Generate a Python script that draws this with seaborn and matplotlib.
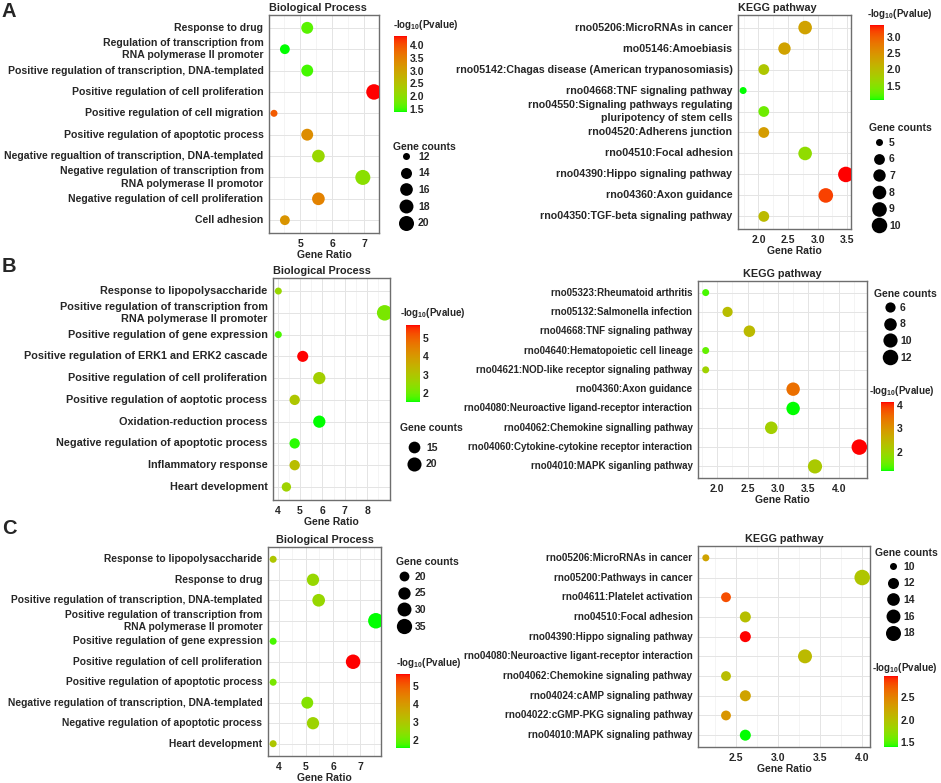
import numpy as np
import pandas as pd
import seaborn as sns
import matplotlib
matplotlib.use("Agg")
import matplotlib.pyplot as plt
from matplotlib.colors import ListedColormap, Normalize
from matplotlib.cm import ScalarMappable
from matplotlib.lines import Line2D
from matplotlib.ticker import AutoMinorLocator, FormatStrFormatter

# ---------------- values ----------------
# A - Biological Process
a_bp_terms = ["Response to drug",
              "Regulation of transcription from\nRNA polymerase II promoter",
              "Positive regulation of transcription, DNA-templated",
              "Positive regulation of cell proliferation",
              "Positive regulation of cell migration",
              "Positive regulation of apoptotic process",
              "Negative regualtion of transcription, DNA-templated",
              "Negative regulation of transcription from\nRNA polymerase II promotor",
              "Negative regulation of cell proliferation",
              "Cell adhesion"]
a_bp_ratio = [5.22, 4.52, 5.22, 7.31, 4.18, 5.22, 5.57, 6.96, 5.57, 4.52]
a_bp_count = [15, 13, 15, 21, 12, 15, 16, 20, 16, 13]
a_bp_logp = [1.60, 1.37, 1.50, 4.37, 3.92, 3.32, 2.12, 1.97, 3.47, 3.23]
a_bp_xticks = [5, 6, 7]
a_bp_cticks = [1.5, 2.0, 2.5, 3.0, 3.5, 4.0]
a_bp_breaks = [12, 14, 16, 18, 20]

# A - KEGG pathway
a_kegg_terms = ["rno05206:MicroRNAs in cancer",
                "rno05146:Amoebiasis",
                "rno05142:Chagas disease (American trypanosomiasis)",
                "rno04668:TNF signaling pathway",
                "rno04550:Signaling pathways regulating\npluripotency of stem cells",
                "rno04520:Adherens junction",
                "rno04510:Focal adhesion",
                "rno04390:Hippo signaling pathway",
                "rno04360:Axon guidance",
                "rno04350:TGF-beta signaling pathway"]
a_kegg_ratio = [2.79, 2.44, 2.09, 1.74, 2.09, 2.09, 2.79, 3.48, 3.14, 2.09]
a_kegg_count = [8, 7, 6, 5, 6, 6, 8, 10, 9, 6]
a_kegg_logp = [2.32, 2.32, 1.87, 1.07, 1.34, 2.39, 1.57, 3.35, 3.17, 2.03]
a_kegg_xticks = [2.0, 2.5, 3.0, 3.5]
a_kegg_cticks = [1.5, 2.0, 2.5, 3.0]
a_kegg_breaks = [5, 6, 7, 8, 9, 10]

# B - Biological Process
b_bp_terms = ["Response to lipopolysaccharide",
              "Positive regulation of transcription from\nRNA polymerase II promoter",
              "Positive regulation of gene expression",
              "Positive regulation of ERK1 and ERK2 cascade",
              "Positive regulation of cell proliferation",
              "Positive regulation of aoptotic process",
              "Oxidation-reduction process",
              "Negative regulation of apoptotic process",
              "Inflammatory response",
              "Heart development"]
b_bp_ratio = [4.03, 8.78, 4.03, 5.12, 5.86, 4.76, 5.86, 4.76, 4.76, 4.39]
b_bp_count = [11, 24, 11, 14, 16, 13, 16, 13, 13, 12]
b_bp_logp = [2.55, 2.12, 1.70, 5.74, 2.76, 2.97, 1.48, 1.55, 3.18, 2.67]
b_bp_xticks = [4, 5, 6, 7, 8]
b_bp_cticks = [2, 3, 4, 5]
b_bp_breaks = [15, 20]

# B - KEGG pathway
b_kegg_terms = ["rno05323:Rheumatoid arthritis",
                "rno05132:Salmonella infection",
                "rno04668:TNF signaling pathway",
                "rno04640:Hematopoietic cell lineage",
                "rno04621:NOD-like receptor signaling pathway",
                "rno04360:Axon guidance",
                "rno04080:Neuroactive ligand-receptor interaction",
                "rno04062:Chemokine signalling pathway",
                "rno04060:Cytokine-cytokine receptor interaction",
                "rno04010:MAPK siganling pathway"]
b_kegg_ratio = [1.81, 2.17, 2.53, 1.81, 1.81, 3.25, 3.25, 2.89, 4.34, 3.61]
b_kegg_count = [5, 6, 7, 5, 5, 9, 9, 8, 12, 10]
b_kegg_logp = [1.32, 2.36, 2.42, 1.47, 2.00, 3.49, 1.17, 2.06, 4.14, 2.15]
b_kegg_xticks = [2.0, 2.5, 3.0, 3.5, 4.0]
b_kegg_cticks = [2, 3, 4]
b_kegg_breaks = [6, 8, 10, 12]

# C - Biological Process
c_bp_terms = ["Response to lipopolysaccharide",
              "Response to drug",
              "Positive regulation of transcription, DNA-templated",
              "Positive regulation of transcription from\nRNA polymerase II promoter",
              "Positive regulation of gene expression",
              "Positive regulation of cell proliferation",
              "Positive regulation of apoptotic process",
              "Negative regulation of transcription, DNA-templated",
              "Negative regulation of apoptotic process",
              "Heart development"]
c_bp_ratio = [3.79, 5.26, 5.47, 7.58, 3.79, 6.74, 3.79, 5.05, 5.26, 3.79]
c_bp_count = [18, 25, 26, 36, 18, 32, 18, 24, 25, 18]
c_bp_logp = [2.99, 2.57, 2.57, 1.53, 1.74, 5.70, 2.16, 2.28, 2.66, 2.99]
c_bp_xticks = [4, 5, 6, 7]
c_bp_cticks = [2, 3, 4, 5]
c_bp_breaks = [20, 25, 30, 35]

# C - KEGG pathway
c_kegg_terms = ["rno05206:MicroRNAs in cancer",
                "rno05200:Pathways in cancer",
                "rno04611:Platelet activation",
                "rno04510:Focal adhesion",
                "rno04390:Hippo signaling pathway",
                "rno04080:Neuroactive ligant-receptor interaction",
                "rno04062:Chemokine signaling pathway",
                "rno04024:cAMP signaling pathway",
                "rno04022:cGMP-PKG signaling pathway",
                "rno04010:MAPK signaling pathway"]
c_kegg_ratio = [2.14, 4.00, 2.38, 2.61, 2.61, 3.32, 2.38, 2.61, 2.38, 2.61]
c_kegg_count = [10, 19, 11, 12, 12, 16, 11, 12, 11, 12]
c_kegg_logp = [2.24, 1.95, 2.78, 2.00, 2.95, 2.05, 2.02, 2.24, 2.35, 1.40]
c_kegg_xticks = [2.5, 3.0, 3.5, 4.0]
c_kegg_cticks = [1.5, 2.0, 2.5]
c_kegg_breaks = [10, 12, 14, 16, 18]

# ---------------- style ----------------
sns.set_style("white")
plt.rcParams['font.family'] = ['Liberation Sans', 'DejaVu Sans']
plt.rcParams['font.weight'] = 'bold'
plt.rcParams['axes.titleweight'] = 'bold'
plt.rcParams['axes.labelweight'] = 'bold'
plt.rcParams['mathtext.fontset'] = 'custom'
plt.rcParams['mathtext.rm'] = 'Liberation Sans:bold'
plt.rcParams['mathtext.default'] = 'rm'

W, H = 941, 783
FS = 7.5      # ticks, legends
FS_T = 7.8    # panel titles


def px_rect(x0, y0, x1, y1):
    # pixel box (top-left origin) -> figure fraction
    return [x0 / W, 1 - y1 / H, (x1 - x0) / W, (y1 - y0) / H]


# green -> red blended in CIELAB, like ggplot's scale_colour_gradient
def lab_ramp(c0, c1, n=256):
    M = np.array([[0.4124564, 0.3575761, 0.1804375],
                  [0.2126729, 0.7151522, 0.0721750],
                  [0.0193339, 0.1191920, 0.9503041]])
    white = np.array([0.95047, 1.0, 1.08883])

    def to_lab(rgb):
        rgb = np.asarray(rgb, float)
        lin = np.where(rgb <= 0.04045, rgb / 12.92, ((rgb + 0.055) / 1.055) ** 2.4)
        xyz = M @ lin / white
        f = np.where(xyz > 216 / 24389, np.cbrt(xyz), (24389 / 27 * xyz + 16) / 116)
        return np.array([116 * f[1] - 16, 500 * (f[0] - f[1]), 200 * (f[1] - f[2])])

    t = np.linspace(0, 1, n)[:, None]
    lab = to_lab(c0) * (1 - t) + to_lab(c1) * t
    fy = (lab[:, 0] + 16) / 116
    f = np.stack([fy + lab[:, 1] / 500, fy, fy - lab[:, 2] / 200], axis=1)
    xyz = np.where(f ** 3 > 216 / 24389, f ** 3, (116 * f - 16) / (24389 / 27)) * white
    lin = np.clip(xyz @ np.linalg.inv(M).T, 0, 1)
    rgb = np.where(lin <= 0.0031308, 12.92 * lin, 1.055 * lin ** (1 / 2.4) - 0.055)
    return ListedColormap(np.clip(rgb, 0, 1))


cmap = lab_ramp((0, 1, 0), (1, 0, 0))

fig = plt.figure(figsize=(W / 100, H / 100), dpi=100)


def draw_panel(box, terms, ratio, count, logp, title, title_loc, fs_y, xticks, xfmt,
               cbox, ctitle_xy, cticks, cfmt,
               breaks, ltitle_xy, first_row_y, circle_x, label_x):
    ax = fig.add_axes(px_rect(*box))
    df = pd.DataFrame({'term': terms, 'ratio': ratio, 'count': count, 'logp': logp})
    norm = Normalize(min(logp), max(logp))
    lo, hi = min(count), max(count)

    # point diameter (in pt) grows with sqrt of the rescaled count
    def diam(c):
        return (7 + 8.5 * np.sqrt((c - lo) / (hi - lo))) * 0.72

    sizes = {c: diam(c) ** 2 for c in set(count)}
    sns.scatterplot(data=df, x='ratio', y='term', hue='logp', size='count',
                    palette=cmap, hue_norm=norm, sizes=sizes, linewidth=0,
                    legend=False, ax=ax, zorder=3)

    span = max(ratio) - min(ratio)
    ax.set_xlim(min(ratio) - 0.05 * span, max(ratio) + 0.05 * span)
    n = len(terms)
    ax.set_yticks(np.arange(n))
    ax.set_yticklabels(terms, va='center', linespacing=1.3)
    ax.set_ylim(n - 0.4, -0.6)
    ax.set_xticks(xticks)
    ax.xaxis.set_major_formatter(FormatStrFormatter(xfmt))
    ax.xaxis.set_minor_locator(AutoMinorLocator(2))
    ax.grid(which='major', color='#e4e4e4', lw=0.7)
    ax.grid(which='minor', axis='x', color='#f0f0f0', lw=0.5)
    ax.set_axisbelow(True)
    ax.tick_params(which='major', length=2.5, width=0.6, color='#555555', pad=1.5)
    ax.tick_params(axis='x', labelsize=FS)
    ax.tick_params(axis='y', labelsize=fs_y)
    ax.tick_params(which='minor', length=0)
    for s in ax.spines.values():
        s.set_color('#6e6e6e')
        s.set_linewidth(1.0)
    ax.set_xlabel('Gene Ratio', fontsize=FS, labelpad=1)
    ax.set_ylabel('')
    ax.set_title(title, fontsize=FS_T, pad=3, loc=title_loc)

    # colour bar
    cax = fig.add_axes(px_rect(*cbox))
    cb = fig.colorbar(ScalarMappable(norm=norm, cmap=cmap), cax=cax)
    cb.outline.set_visible(False)
    cb.set_ticks(cticks)
    cb.minorticks_off()
    cax.yaxis.set_major_formatter(FormatStrFormatter(cfmt))
    cax.tick_params(which='major', direction='in', length=3, width=0.8,
                    color='white', left=True, right=True, labelsize=FS, pad=2)
    fig.text(ctitle_xy[0] / W, 1 - ctitle_xy[1] / H, r'-log$_{10}$(Pvalue)',
             fontsize=7.0, va='center', ha='left')

    # size legend
    fig.text(ltitle_xy[0] / W, 1 - ltitle_xy[1] / H, 'Gene counts',
             fontsize=FS, va='center', ha='left')
    handles = [Line2D([], [], ls='none', marker='o', ms=diam(b), mfc='black',
                      mec='black', mew=0) for b in breaks]
    left = ltitle_xy[0]
    off = (circle_x - left) * 0.72 / FS
    pad = (label_x - 2 * circle_x + left) * 0.72 / FS
    fig.legend(handles, [str(b) for b in breaks], loc='upper left',
               bbox_to_anchor=(left / W, 1 - (first_row_y - 5.3) / H),
               frameon=False, fontsize=FS, borderpad=0, borderaxespad=0,
               handlelength=2 * off, handletextpad=pad, labelspacing=0.64)
    return ax


draw_panel((269, 15, 379, 233), a_bp_terms, a_bp_ratio, a_bp_count, a_bp_logp,
           'Biological Process', 'left', 7.6, a_bp_xticks, '%d',
           (394, 36, 407, 112), (393, 25), a_bp_cticks, '%.1f',
           a_bp_breaks, (393, 147), 157, 406, 418)
draw_panel((738, 15, 851, 229), a_kegg_terms, a_kegg_ratio, a_kegg_count, a_kegg_logp,
           'KEGG pathway', 'left', 7.62, a_kegg_xticks, '%.1f',
           (870, 25, 884, 100), (867, 14), a_kegg_cticks, '%.1f',
           a_kegg_breaks, (869, 128), 143, 879, 889)
draw_panel((273, 278, 390, 500), b_bp_terms, b_bp_ratio, b_bp_count, b_bp_logp,
           'Biological Process', 'left', 7.87, b_bp_xticks, '%d',
           (406, 325, 420, 402), (400, 313), b_bp_cticks, '%d',
           b_bp_breaks, (400, 428), 448, 414, 426)
draw_panel((698, 281, 867, 478), b_kegg_terms, b_kegg_ratio, b_kegg_count, b_kegg_logp,
           'KEGG pathway', 'center', 7.0, b_kegg_xticks, '%.1f',
           (881, 402, 894, 471), (869, 391), b_kegg_cticks, '%d',
           b_kegg_breaks, (874, 294), 308, 890, 900)
draw_panel((268, 547, 381, 756), c_bp_terms, c_bp_ratio, c_bp_count, c_bp_logp,
           'Biological Process', 'center', 7.43, c_bp_xticks, '%d',
           (396, 674, 410, 748), (396, 663), c_bp_cticks, '%d',
           c_bp_breaks, (396, 562), 577, 404, 415)
draw_panel((698, 546, 870, 747), c_kegg_terms, c_kegg_ratio, c_kegg_count, c_kegg_logp,
           'KEGG pathway', 'center', 7.1, c_kegg_xticks, '%.1f',
           (884, 676, 898, 747), (872, 668), c_kegg_cticks, '%.1f',
           c_kegg_breaks, (875, 553), 567, 893, 903)

# panel letters
for letter, y in [('A', 2), ('B', 257), ('C', 519)]:
    fig.text(2 / W, 1 - y / H, letter, fontsize=14.5, fontweight='bold', va='top')

fig.savefig('out.png', dpi=100)
